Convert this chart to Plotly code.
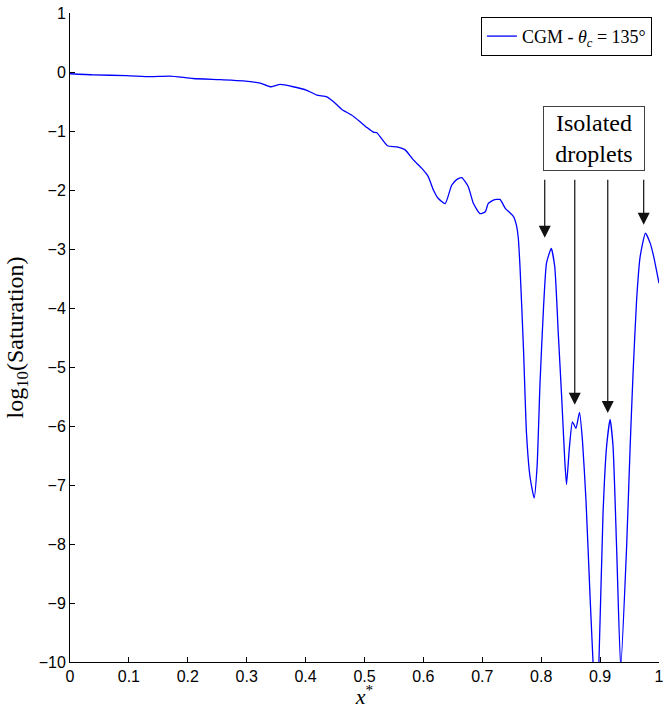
import plotly.graph_objects as go

# Data
x_star = [0.000, 0.040, 0.096, 0.136, 0.170, 0.209, 0.255, 0.294, 0.323, 0.340,
          0.357, 0.379, 0.402, 0.419, 0.436, 0.447, 0.461, 0.478, 0.492, 0.504,
          0.515, 0.521, 0.539, 0.555, 0.569, 0.583, 0.597, 0.608, 0.617, 0.625,
          0.637, 0.648, 0.657, 0.665, 0.676, 0.685, 0.696, 0.705, 0.710, 0.719,
          0.730, 0.739, 0.753, 0.758, 0.761, 0.764, 0.770, 0.775, 0.781, 0.788,
          0.793, 0.798, 0.804, 0.809, 0.817, 0.823, 0.829, 0.835, 0.840, 0.843,
          0.848, 0.853, 0.859, 0.865, 0.870, 0.876, 0.883, 0.888, 0.893, 0.898,
          0.905, 0.911, 0.917, 0.922, 0.928, 0.935, 0.945, 0.951, 0.956, 0.962,
          0.968, 0.977, 0.985, 0.991, 1.000]
log_sat = [-0.03, -0.05, -0.06, -0.08, -0.07, -0.11, -0.13, -0.15, -0.19, -0.25,
           -0.21, -0.25, -0.31, -0.39, -0.42, -0.50, -0.63, -0.73, -0.84, -0.94,
           -1.02, -1.03, -1.25, -1.27, -1.32, -1.49, -1.63, -1.77, -2.00, -2.14,
           -2.23, -1.92, -1.82, -1.79, -1.94, -2.23, -2.40, -2.37, -2.23, -2.17,
           -2.16, -2.31, -2.45, -2.60, -2.80, -3.30, -4.71, -6.12, -6.86, -7.22,
           -6.69, -5.27, -3.98, -3.24, -2.99, -3.30, -4.43, -5.56, -6.58, -6.99,
           -6.35, -5.93, -6.04, -5.77, -6.24, -7.25, -8.90, -10.0, -11.0, -10.0,
           -7.48, -6.35, -5.89, -6.35, -8.05, -10.1, -8.05, -6.35, -5.10, -3.86,
           -3.13, -2.73, -2.90, -3.13, -3.58]

series_name = "CGM - <i>θ</i><sub><i>c</i></sub> = 135°"
note_text = "Isolated<br>droplets"
arrow_x = [0.806, 0.857, 0.913, 0.974]
arrow_tip = [-2.81, -5.64, -5.78, -2.59]
arrow_tail = -1.80

fig = go.Figure()
fig.add_trace(go.Scatter(
    x=x_star, y=log_sat, mode="lines", name=series_name,
    line=dict(color="#0000FF", width=1.3, shape="spline", smoothing=0.5),
))

serif = "Liberation Serif, Times New Roman, serif"
sans = "Liberation Sans, Arial, sans-serif"

fig.add_annotation(
    x=0.8897, y=-1.12, xref="x", yref="y", text=note_text, showarrow=False,
    font=dict(family=serif, size=24, color="black"), width=94,
    bordercolor="#404040", borderwidth=1, borderpad=3, bgcolor="white",
)
for ax_, tip in zip(arrow_x, arrow_tip):
    fig.add_annotation(
        x=ax_, y=tip, ax=ax_, ay=arrow_tail, xref="x", yref="y",
        axref="x", ayref="y", text="", showarrow=True,
        arrowhead=2, arrowsize=2.0, arrowwidth=1.2, arrowcolor="#111111",
        standoff=0, startstandoff=0,
    )

fig.update_layout(
    width=663, height=709,
    margin=dict(l=70, r=4, t=13, b=47, autoexpand=False),
    paper_bgcolor="white", plot_bgcolor="white",
    showlegend=True,
    legend=dict(
        x=0.988, y=0.994, xanchor="right", yanchor="top",
        bgcolor="white", bordercolor="black", borderwidth=1,
        font=dict(family=serif, size=18, color="black"),
        itemwidth=30, tracegroupgap=0,
    ),
    font=dict(family=sans, size=16, color="black"),
)
fig.update_xaxes(
    range=[0, 1], dtick=0.1, tick0=0, showgrid=False, zeroline=False,
    showline=True, linecolor="black", linewidth=1, automargin=False,
    ticks="inside", ticklen=5, tickcolor="black", ticklabeloverflow="allow",
    tickfont=dict(family=sans, size=16, color="black"),
    title=dict(text="<i>x</i><sup>*</sup>", font=dict(family=serif, size=22), standoff=2),
)
fig.update_yaxes(
    range=[-10, 1], dtick=1, tick0=0, showgrid=False, zeroline=False,
    showline=True, linecolor="black", linewidth=1, automargin=False,
    ticks="inside", ticklen=5, tickcolor="black", ticklabeloverflow="allow",
    tickfont=dict(family=sans, size=16, color="black"),
    title=dict(text="log<sub>10</sub>(Saturation)", font=dict(family=serif, size=24), standoff=8),
)

fig.write_html(
    "out.html",
    config={"displayModeBar": False},
    post_script="document.body.style.margin='0';document.body.style.overflow='hidden';",
)
